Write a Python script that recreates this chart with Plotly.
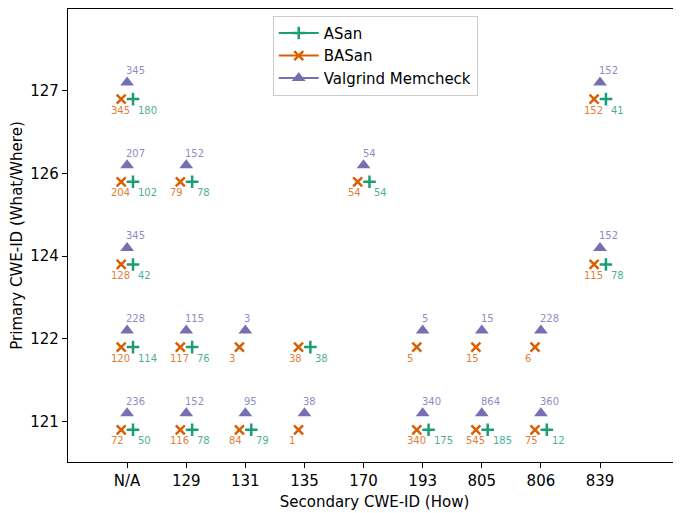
import plotly.graph_objects as go

# Axis categories
secondary_cwe = ["N/A", "129", "131", "135", "170", "193", "805", "806", "839"]
primary_cwe = ["121", "122", "124", "126", "127"]

# ASan points: (secondary, primary, count)
asan_sec = ["N/A", "839", "N/A", "129", "170", "N/A", "839", "N/A", "129", "135",
            "N/A", "129", "131", "193", "805", "806"]
asan_pri = ["127", "127", "126", "126", "126", "124", "124", "122", "122", "122",
            "121", "121", "121", "121", "121", "121"]
asan_n = [180, 41, 102, 78, 54, 42, 78, 114, 76, 38, 50, 78, 79, 175, 185, 12]

# BASan points
basan_sec = ["N/A", "839", "N/A", "129", "170", "N/A", "839", "N/A", "129", "131",
             "135", "193", "805", "806", "N/A", "129", "131", "135", "193", "805", "806"]
basan_pri = ["127", "127", "126", "126", "126", "124", "124", "122", "122", "122",
             "122", "122", "122", "122", "121", "121", "121", "121", "121", "121", "121"]
basan_n = [345, 152, 204, 79, 54, 128, 115, 120, 117, 3, 38, 5, 15, 6,
           72, 116, 84, 1, 340, 545, 75]

# Valgrind Memcheck points
vg_sec = ["N/A", "839", "N/A", "129", "170", "N/A", "839", "N/A", "129", "131",
          "193", "805", "806", "N/A", "129", "131", "135", "193", "805", "806"]
vg_pri = ["127", "127", "126", "126", "126", "124", "124", "122", "122", "122",
          "122", "122", "122", "121", "121", "121", "121", "121", "121", "121"]
vg_n = [345, 152, 207, 152, 54, 345, 152, 228, 115, 3, 5, 15, 228,
        236, 152, 95, 38, 340, 864, 360]

C_ASAN = "#1b9e77"
C_BASAN = "#d95f02"
C_VG = "#7570b3"
FONT = "DejaVu Sans"

series = [
    dict(name="ASan", sec=asan_sec, pri=asan_pri, n=asan_n, color=C_ASAN,
         symbol="cross-thin", size=9, dx=0.1, dy=-0.1, lx=4, ly=-11),
    dict(name="BASan", sec=basan_sec, pri=basan_pri, n=basan_n, color=C_BASAN,
         symbol="x-thin", size=9, dx=-0.1, dy=-0.1, lx=-11, ly=-11),
    dict(name="Valgrind Memcheck", sec=vg_sec, pri=vg_pri, n=vg_n, color=C_VG,
         symbol="triangle-up", size=12, dx=0.0, dy=0.1, lx=-2, ly=12),
]

fig = go.Figure()
annotations = []
for s in series:
    xs, ys = [], []
    for sec, pri, n in zip(s["sec"], s["pri"], s["n"]):
        x = secondary_cwe.index(sec) + s["dx"]
        y = primary_cwe.index(pri) + s["dy"]
        xs += [x, None]
        ys += [y, None]
        annotations.append(dict(
            x=x, y=y, text=str(n), showarrow=False, xanchor="left", yanchor="middle",
            xshift=s["lx"], yshift=s["ly"], borderpad=0,
            font=dict(family=FONT, size=10, color=s["color"]), opacity=0.8))
    open_marker = s["symbol"] != "triangle-up"
    fig.add_trace(go.Scatter(
        x=xs, y=ys, name=s["name"], mode="lines+markers", connectgaps=False,
        line=dict(color=s["color"], width=2),
        marker=dict(symbol=s["symbol"], size=s["size"], color=s["color"],
                    line=dict(color=s["color"], width=2.5 if open_marker else 0)),
    ))

# page body has an 8px default margin, so the figure is sized to fit the window
fig.update_layout(
    width=673, height=505,
    margin=dict(l=60, r=0, t=1, b=51, autoexpand=False),
    paper_bgcolor="white", plot_bgcolor="white",
    font=dict(family=FONT, size=15, color="black"),
    annotations=annotations,
    showlegend=True,
    legend=dict(x=0.334, y=0.985, xanchor="left", yanchor="top",
                bgcolor="white", bordercolor="#cccccc", borderwidth=1,
                font=dict(family=FONT, size=15), tracegroupgap=0, itemwidth=40),
)
fig.update_xaxes(
    range=[-1.0, 9.37], automargin=False,
    tickmode="array", tickvals=list(range(len(secondary_cwe))), ticktext=secondary_cwe,
    showgrid=False, zeroline=False,
    showline=True, linecolor="black", linewidth=1.2, mirror=True,
    ticks="outside", ticklen=5, tickcolor="black",
    title=dict(text="Secondary CWE-ID (How)", font=dict(size=15), standoff=7),
)
fig.update_yaxes(
    range=[-0.49, 4.99], automargin=False,
    tickmode="array", tickvals=list(range(len(primary_cwe))), ticktext=primary_cwe,
    showgrid=False, zeroline=False,
    showline=True, linecolor="black", linewidth=1.2,
    ticks="outside", ticklen=5, tickcolor="black",
    title=dict(text="Primary CWE-ID (What/Where)", font=dict(size=15), standoff=14),
)

fig.write_html("out.html")
